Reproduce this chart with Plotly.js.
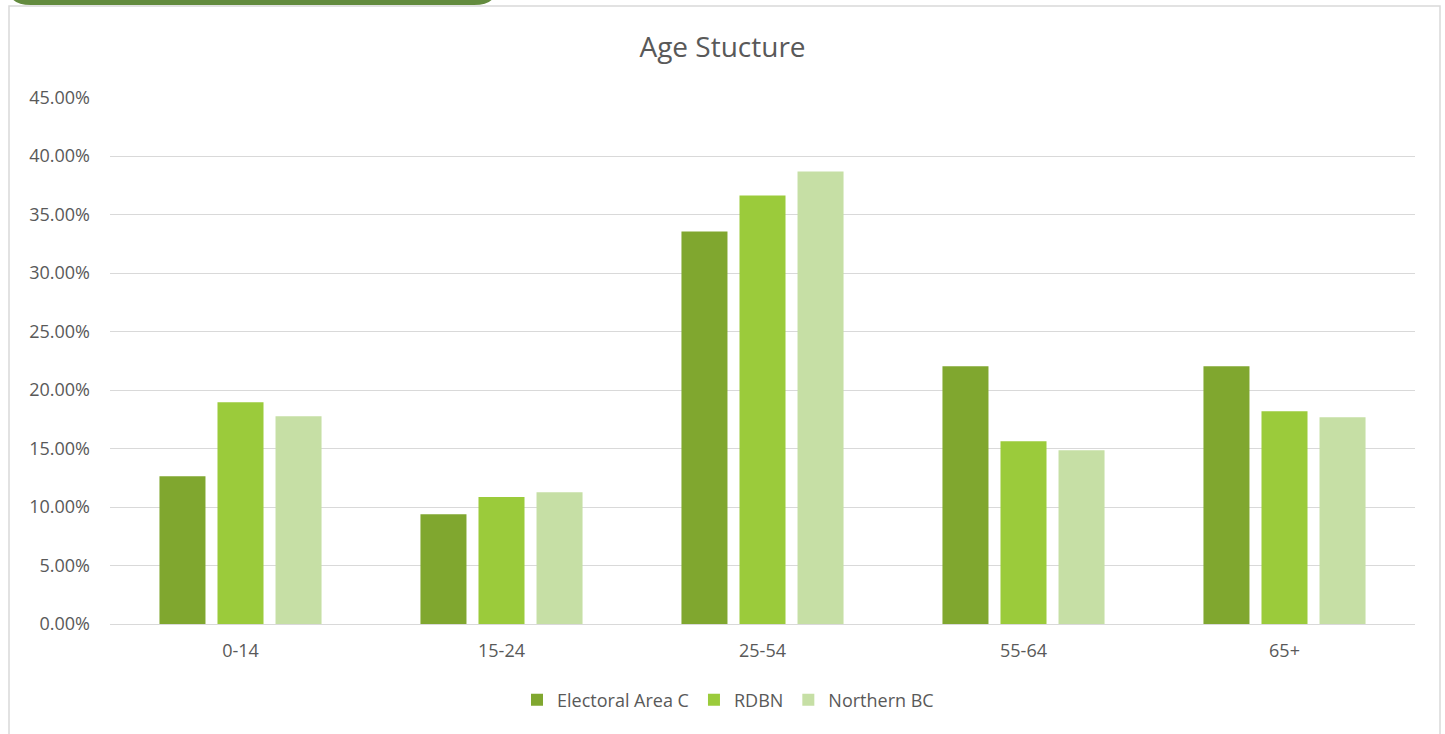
<!DOCTYPE html>
<html>
<head>
<meta charset="utf-8">
<script src="https://cdn.plot.ly/plotly-3.0.1.min.js"></script>
<style>html,body{margin:0;padding:0;background:#fff;}#chart{width:1445px;height:734px;}</style>
</head>
<body>
<div id="chart"></div>
<script>
const categories = ["0-14", "15-24", "25-54", "55-64", "65+"];
const seriesNames = ["Electoral Area C", "RDBN", "Northern BC"];
const electoralAreaC = [0.1264, 0.0939, 0.3356, 0.2203, 0.2203];
const rdbn = [0.1896, 0.1085, 0.3664, 0.1563, 0.1819];
const northernBC = [0.1776, 0.1127, 0.3869, 0.1486, 0.1768];
const colors = ["#80A72F", "#9BCB3B", "#C6DFA5"];
const tickVals = [0, 0.05, 0.10, 0.15, 0.20, 0.25, 0.30, 0.35, 0.40, 0.45];
const tickText = ["0.00%", "5.00%", "10.00%", "15.00%", "20.00%", "25.00%", "30.00%", "35.00%", "40.00%", "45.00%"];

const W = 1445, H = 734, ML = 110, MR = 30, MT = 97, MB = 110;
const PW = W - ML - MR, PH = H - MT - MB;
const px = x => (x - ML) / PW;
const py = y => (H - MB - y) / PH;

const font = "'Open Sans', Lato, 'Liberation Sans', sans-serif";
const values = [electoralAreaC, rdbn, northernBC];
const traces = values.map((v, i) => ({
  type: "bar",
  name: seriesNames[i],
  x: categories,
  y: v,
  marker: {color: colors[i], line: {width: 0}},
  hoverinfo: "x+y+name"
}));

const r = 14;
const tabPath = `M ${px(10)} ${py(-5)} L ${px(10)} ${py(5 - r)} Q ${px(10)} ${py(5)} ${px(10 + r*1.5)} ${py(5)} L ${px(495 - r*1.5)} ${py(5)} Q ${px(495)} ${py(5)} ${px(495)} ${py(5 - r)} L ${px(495)} ${py(-5)} Z`;

const layout = {
  width: W, height: H,
  autosize: false,
  margin: {l: ML, r: MR, t: MT, b: MB, autoexpand: false},
  paper_bgcolor: "#ffffff",
  plot_bgcolor: "#ffffff",
  font: {family: font, color: "#595959", size: 18},
  title: {text: "Age Stucture", font: {family: font, size: 28, color: "#595959"}, x: 0.5, xref: "container", y: 1 - 47/734, yref: "container", yanchor: "middle", xanchor: "center"},
  barmode: "group",
  bargap: 0.333,
  bargroupgap: 0.207,
  xaxis: {
    type: "category",
    showgrid: false,
    showline: true,
    linecolor: "#d9d9d9",
    linewidth: 1,
    ticks: "",
    tickfont: {size: 18, color: "#595959"},
    ticklabelstandoff: 10,
    automargin: false,
    fixedrange: true
  },
  yaxis: {
    range: [0, 0.4505],
    tickvals: tickVals,
    ticktext: tickText,
    showgrid: true,
    gridcolor: "#d9d9d9",
    gridwidth: 1,
    zeroline: false,
    showline: false,
    ticks: "",
    tickfont: {size: 18, color: "#595959"},
    ticklabelstandoff: 19,
    automargin: false,
    fixedrange: true
  },
  legend: {
    orientation: "h",
    x: px(728), xanchor: "center",
    y: py(700), yanchor: "middle",
    font: {size: 18, color: "#595959"},
    traceorder: "normal",
    itemwidth: 30
  },
  shapes: [
    {type: "rect", xref: "paper", yref: "paper", x0: px(9), x1: px(1440), y0: py(740), y1: py(6), line: {color: "#d9d9d9", width: 1.5}, fillcolor: "rgba(0,0,0,0)", layer: "below"},
    {type: "path", xref: "paper", yref: "paper", path: tabPath, fillcolor: "#638B3E", line: {width: 0}}
  ],
  showlegend: true
};

Plotly.newPlot("chart", traces, layout, {displayModeBar: false});
</script>
</body>
</html>
